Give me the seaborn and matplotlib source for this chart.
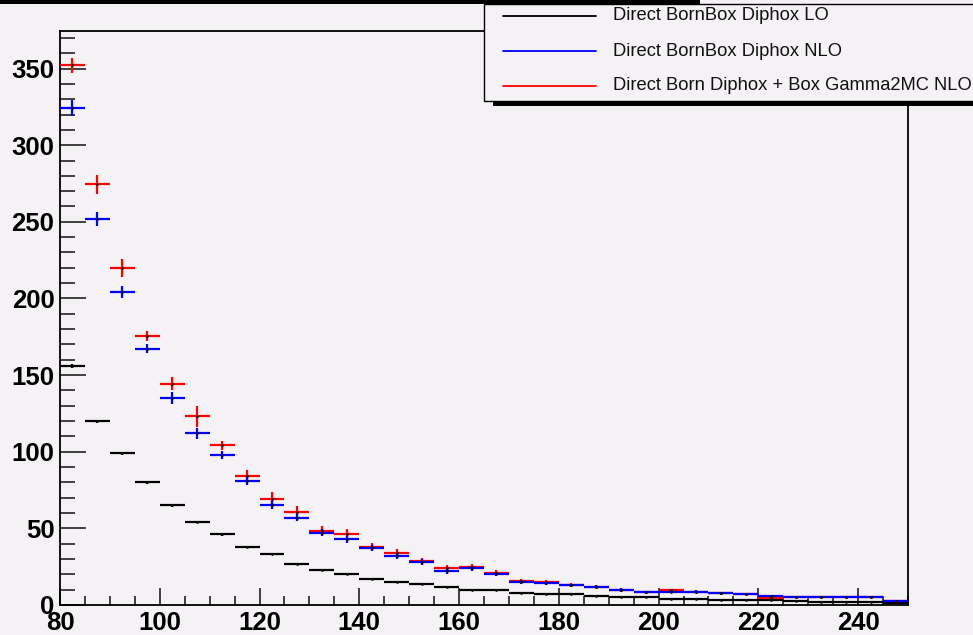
import numpy as np
import pandas as pd
import matplotlib
matplotlib.use("Agg")
import matplotlib.pyplot as plt
import seaborn as sns
from matplotlib.patches import Rectangle
from matplotlib.lines import Line2D
from matplotlib.ticker import MultipleLocator

# ---------------- data ----------------
bin_low = [80, 85, 90, 95, 100, 105, 110, 115, 120, 125, 130, 135, 140, 145,
           150, 155, 160, 165, 170, 175, 180, 185, 190, 195, 200, 205, 210,
           215, 220, 225, 230, 235, 240, 245]
bin_width = 5

lo_vals = [156, 120, 99, 80, 65, 54, 46, 38, 33, 27, 23, 20, 17, 15, 14, 12,
           10, 10, 8, 7, 7, 6, 5, 5, 4, 4, 3.5, 3.5, 3, 2.5, 2, 2, 2, 1.5]
lo_errs = [1.2, 1.0, 0.9, 0.8, 0.8, 0.7, 0.7, 0.6, 0.6, 0.5, 0.5, 0.5, 0.5,
           0.4, 0.4, 0.4, 0.4, 0.4, 0.3, 0.3, 0.3, 0.3, 0.3, 0.3, 0.3, 0.3,
           0.2, 0.2, 0.2, 0.2, 0.2, 0.2, 0.2, 0.2]

nlo_vals = [324, 251.6, 204.4, 167.2, 135.2, 112.2, 98, 81.1, 65.2, 57, 47.2,
            42.8, 37.2, 32, 28, 22, 24.1, 20.2, 15, 14.1, 13, 12, 9.8, 8.3,
            8.7, 8.7, 7.6, 7, 5.9, 5.4, 5.4, 5.4, 5.4, 2.8]
nlo_errs = [5.2, 4.5, 3.8, 3.0, 4.0, 3.6, 2.7, 2.8, 2.5, 2.5, 2.3, 2.5, 2.0,
            2.0, 1.8, 1.6, 1.6, 1.5, 1.2, 1.2, 1.0, 1.0, 1.0, 0.8, 0.8, 0.8,
            0.8, 0.8, 0.7, 0.7, 0.7, 0.6, 0.6, 0.5]

mix_vals = [352, 274.6, 219.8, 175.5, 144.4, 123.1, 104.2, 84.1, 69.1, 61,
            48.5, 46.3, 37.8, 34.1, 28.9, 23.9, 25, 21.1, 15.7, 15, 13, 12,
            9.8, 8.3, 9.8, 8.7, 7.6, 7, 4.4, 5.4, 5.4, 5.4, 5.4, 2.8]
mix_errs = [5.2, 6.2, 5.7, 3.3, 4.3, 7.0, 2.8, 3.7, 4.8, 3.5, 3.0, 3.5, 2.5,
            2.5, 2.0, 2.0, 2.0, 1.8, 1.5, 1.5, 1.2, 1.2, 1.0, 1.0, 0.9, 0.9,
            0.8, 0.8, 0.8, 0.7, 0.7, 0.7, 0.7, 0.6]

labels = ["Direct BornBox Diphox LO",
          "Direct BornBox Diphox NLO",
          "Direct Born Diphox + Box Gamma2MC NLO"]
colors = ["black", "#0000ff", "#ff0000"]

x_major = [80, 100, 120, 140, 160, 180, 200, 220, 240]
y_major = [0, 50, 100, 150, 200, 250, 300, 350]

# ---------------- figure ----------------
W, H = 973, 635
BG = "#f5f2f5"
sns.set_theme(style="ticks")
plt.rcParams["font.family"] = ["Liberation Sans", "DejaVu Sans"]

fig = plt.figure(figsize=(W / 100, H / 100), dpi=100)
fig.patch.set_facecolor(BG)
ax = fig.add_axes([60 / W, 30 / H, 848 / W, 574 / H])
ax.set_facecolor(BG)

centers = [b + bin_width / 2 for b in bin_low]
series_vals = {labels[0]: (lo_vals, lo_errs),
               labels[1]: (nlo_vals, nlo_errs),
               labels[2]: (mix_vals, mix_errs)}
frames = []
for lab in labels:
    vals, errs = series_vals[lab]
    frames.append(pd.DataFrame({"x": centers, "y": vals, "err": errs,
                                "series": lab}))
df = pd.concat(frames, ignore_index=True)

order = [labels[0], labels[2], labels[1]]
cmap = dict(zip(labels, colors))
for lab in order:
    d = df[df["series"] == lab]
    ax.errorbar(d["x"], d["y"], xerr=bin_width / 2, yerr=d["err"], fmt="none",
                ecolor=cmap[lab], elinewidth=1.6, capsize=0, zorder=3)
sns.scatterplot(data=df, x="x", y="y", color="#111111", s=4, linewidth=0,
                legend=False, ax=ax, zorder=4)

ax.set_xlim(80, 250)
ax.set_ylim(0, 374.5)
ax.set_xlabel("")
ax.set_ylabel("")
ax.set_xticks(x_major)
ax.set_yticks(y_major)
ax.xaxis.set_minor_locator(MultipleLocator(5))
ax.yaxis.set_minor_locator(MultipleLocator(10))
for s in ax.spines.values():
    s.set_visible(True)
    s.set_color("black")
    s.set_linewidth(1.3)
ax.tick_params(axis="y", which="major", direction="in", length=19, width=1.2,
               color="#222222", pad=4)
ax.tick_params(axis="y", which="minor", direction="in", length=10.5, width=1.2,
               color="#222222")
ax.tick_params(axis="x", which="major", direction="in", length=12, width=1.2,
               color="#222222", pad=4.5)
ax.tick_params(axis="x", which="minor", direction="in", length=6.8, width=1.2,
               color="#222222")
for t in ax.get_xticklabels() + ax.get_yticklabels():
    t.set_fontweight("bold")
    t.set_fontsize(18.5)
    t.set_color("black")


def fx(px):
    return px / W


def fy(py):
    return 1 - py / H


# title box remnant at top
fig.add_artist(Rectangle((fx(0), fy(3.5)), fx(700), 3.5 / H,
                         transform=fig.transFigure, facecolor="black",
                         edgecolor="none", zorder=10))
# legend shadow
fig.add_artist(Rectangle((fx(493), fy(106)), fx(W + 10 - 493), 5 / H,
                         transform=fig.transFigure, facecolor="black",
                         edgecolor="none", zorder=10))
# legend box
fig.add_artist(Rectangle((fx(484), fy(101)), fx(W + 10 - 484), 97 / H,
                         transform=fig.transFigure, facecolor=BG,
                         edgecolor="black", linewidth=1.0, zorder=11))

leg_y = [16, 51, 86]
for lab, col, yy in zip(labels, colors, leg_y):
    fig.add_artist(Line2D([fx(503), fx(596)], [fy(yy), fy(yy)],
                          transform=fig.transFigure, color=col,
                          linewidth=1.3, zorder=12))
    fig.text(fx(613), fy(yy), lab, fontsize=13.2, color="#111111",
             va="center", ha="left", zorder=12)

fig.savefig("out.png", dpi=100, facecolor=BG)
